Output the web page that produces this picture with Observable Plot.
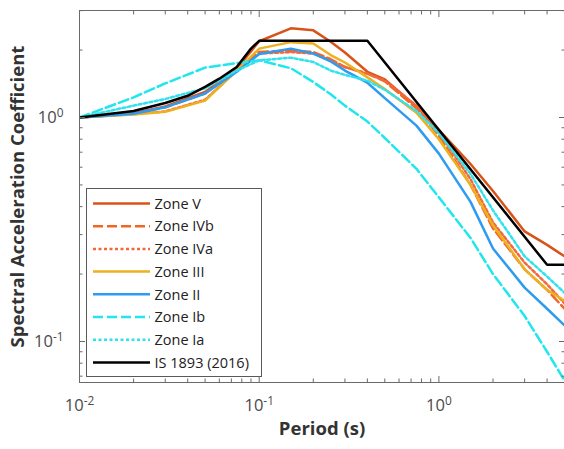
<!DOCTYPE html>
<html><head><meta charset="utf-8">
<script src="https://cdn.jsdelivr.net/npm/d3@7"></script>
<script src="https://cdn.jsdelivr.net/npm/@observablehq/plot@0.6"></script>
<style>
body{margin:0;background:#fff;}
#wrap{position:relative;width:564px;height:449px;overflow:hidden;font-family:"Open Sans",sans-serif;}
#legend{position:absolute;left:86px;top:188px;width:174px;height:187px;border:1px solid #5a5a5a;background:#fff;}
</style></head><body><div id="wrap"></div>
<script>
// ---- data ----
const periods = [0.01,0.02,0.03,0.05,0.075,0.1,0.15,0.2,0.25,0.3,0.4,0.5,0.75,1,1.5,2,3,4,5];
const zoneV   = [1.00,1.045,1.12,1.30,1.65,2.19,2.50,2.45,2.18,1.95,1.60,1.48,1.12,0.88,0.62,0.47,0.31,0.27,0.24];
const zoneIVb = [1.00,1.04,1.11,1.28,1.64,1.96,1.99,1.96,1.82,1.68,1.57,1.45,1.10,0.83,0.50,0.32,0.21,0.17,0.14];
const zoneIVa = [1.00,1.035,1.065,1.20,1.62,1.93,1.96,1.93,1.80,1.68,1.57,1.46,1.13,0.86,0.53,0.34,0.225,0.18,0.148];
const zoneIII = [1.00,1.03,1.06,1.19,1.62,2.03,2.17,2.14,1.90,1.76,1.51,1.34,1.05,0.80,0.50,0.33,0.21,0.17,0.152];
const zoneII  = [1.00,1.04,1.11,1.28,1.60,1.92,2.03,1.93,1.78,1.62,1.43,1.22,0.92,0.69,0.42,0.26,0.174,0.14,0.118];
const zoneIb  = [1.00,1.23,1.42,1.67,1.75,1.80,1.66,1.44,1.27,1.13,0.96,0.81,0.59,0.44,0.29,0.20,0.13,0.09,0.067];
const zoneIa  = [1.00,1.13,1.21,1.35,1.62,1.80,1.85,1.77,1.62,1.55,1.46,1.33,1.07,0.85,0.56,0.385,0.24,0.195,0.165];
const isPeriods = [0.01,0.02,0.03,0.04,0.05,0.06,0.075,0.09,0.1,0.4,4,5];
const isValues  = [1.00,1.07,1.16,1.25,1.37,1.49,1.68,2.03,2.2,2.2,0.22,0.22];

const seriesNames  = ["Zone V","Zone IVb","Zone IVa","Zone III","Zone II","Zone Ib","Zone Ia","IS 1893 (2016)"];
const seriesColors = ["#D95319","#F26525","#F2683A","#EDB120","#2D9BF0","#22E6EE","#30E2EE","#000000"];
const seriesDash   = [null,"10,4","3,2.5",null,null,"10,4","3,2.5",null];

const xDomain = [0.01, 5];
const yDomain = [0.0656, 3.004];
const xMajorTicks = [0.01, 0.1, 1];
const xTickLabels = ["10^-2","10^-1","10^0"];
const xMinorTicks = [0.02,0.03,0.04,0.05,0.06,0.07,0.08,0.09,0.2,0.3,0.4,0.5,0.6,0.7,0.8,0.9,2,3,4,5];
const yMajorTicks = [0.1, 1];
const yTickLabels = ["10^-1","10^0"];
const yMinorTicks = [0.07,0.08,0.09,0.2,0.3,0.4,0.5,0.6,0.7,0.8,0.9,2,3];
const xTitle = "Period (s)";
const yTitle = "Spectral Acceleration Coefficient";

// ---- build tables ----
const zoneValues = [zoneV, zoneIVb, zoneIVa, zoneIII, zoneII, zoneIb, zoneIa];
const tables = zoneValues.map((vals, i) => periods.map((T, j) => ({series: seriesNames[i], T, Sa: vals[j]})));
tables.push(isPeriods.map((T, j) => ({series: seriesNames[7], T, Sa: isValues[j]})));

const axisColor = "#6a6a6a";
const labelColor = "#4a4a4a";
const fmtX = d => xTickLabels[xMajorTicks.indexOf(d)];
const fmtY = d => yTickLabels[yMajorTicks.indexOf(d)];

const chart = Plot.plot({
  width: 564, height: 449,
  marginLeft: 79, marginRight: 0, marginTop: 10, marginBottom: 67,
  style: {fontFamily: '"Open Sans", sans-serif', background: "#fff", overflow: "hidden"},
  x: {type: "log", domain: xDomain},
  y: {type: "log", domain: yDomain},
  marks: [
    ...tables.map((t, i) => Plot.line(t, {
      x: "T", y: "Sa", stroke: seriesColors[i], strokeWidth: 2.5,
      strokeDasharray: seriesDash[i] ?? undefined, clip: true
    })),
    // frame lines
    Plot.ruleX([xDomain[0]], {stroke: axisColor, strokeWidth: 1}),
    Plot.ruleY([yDomain[0]], {stroke: axisColor, strokeWidth: 1}),
    Plot.ruleY([yDomain[1]], {stroke: axisColor, strokeWidth: 1}),
    // ticks (inward)
    Plot.axisX(xMajorTicks, {anchor: "bottom", tickSize: -6, fill: "none", stroke: axisColor, label: null}),
    Plot.axisX(xMinorTicks, {anchor: "bottom", tickSize: -3.5, fill: "none", stroke: axisColor, label: null}),
    Plot.axisX(xMajorTicks, {anchor: "top", tickSize: -6, fill: "none", stroke: axisColor, label: null}),
    Plot.axisX(xMinorTicks, {anchor: "top", tickSize: -3.5, fill: "none", stroke: axisColor, label: null}),
    Plot.axisY(yMajorTicks, {anchor: "left", tickSize: -6, fill: "none", stroke: axisColor, label: null}),
    Plot.axisY(yMinorTicks, {anchor: "left", tickSize: -3.5, fill: "none", stroke: axisColor, label: null}),
    Plot.axisY(yMajorTicks, {anchor: "right", tickSize: -6, fill: "none", stroke: axisColor, label: null}),
    Plot.axisY(yMinorTicks, {anchor: "right", tickSize: -3.5, fill: "none", stroke: axisColor, label: null}),
    // tick labels
    Plot.axisX(xMajorTicks, {anchor: "bottom", tickSize: 0, tickPadding: 17, tickFormat: fmtX, fontSize: 16.5, fill: labelColor, label: null}),
    Plot.axisY(yMajorTicks, {anchor: "left", tickSize: 0, tickPadding: 16, tickFormat: fmtY, fontSize: 16.5, fill: labelColor, label: null}),
    // axis titles
    Plot.text([xTitle], {frameAnchor: "bottom", dy: 52, fontSize: 18.5, fontWeight: "bold", fill: "#333"}),
    Plot.text([yTitle], {frameAnchor: "left", textAnchor: "middle", dx: -61, rotate: -90, fontSize: 18.5, fontWeight: "bold", fill: "#333"})
  ]
});

// superscripts for tick labels
d3.select(chart).selectAll("text").each(function() {
  const m = this.textContent.match(/^10\^(-?\d+)$/);
  if (m) {
    const el = d3.select(this);
    el.text("10");
    el.append("tspan").attr("dy", "-0.5em").attr("font-size", "0.72em").text(m[1]);
  }
});

const wrap = document.getElementById("wrap");
wrap.appendChild(chart);

// legend
const legend = d3.select(wrap).append("div").attr("id", "legend");
const lsvg = legend.append("svg").attr("width", 174).attr("height", 187);
seriesNames.forEach((name, i) => {
  const y = 14.5 + i * 22.7;
  lsvg.append("line").attr("x1", 6).attr("x2", 63).attr("y1", y).attr("y2", y)
    .attr("stroke", seriesColors[i]).attr("stroke-width", 2.5)
    .attr("stroke-dasharray", seriesDash[i]);
  lsvg.append("text").attr("x", 67.5).attr("y", y).attr("dy", "0.36em")
    .attr("font-size", 14.5).attr("fill", "#222").text(name);
});
</script></body></html>
